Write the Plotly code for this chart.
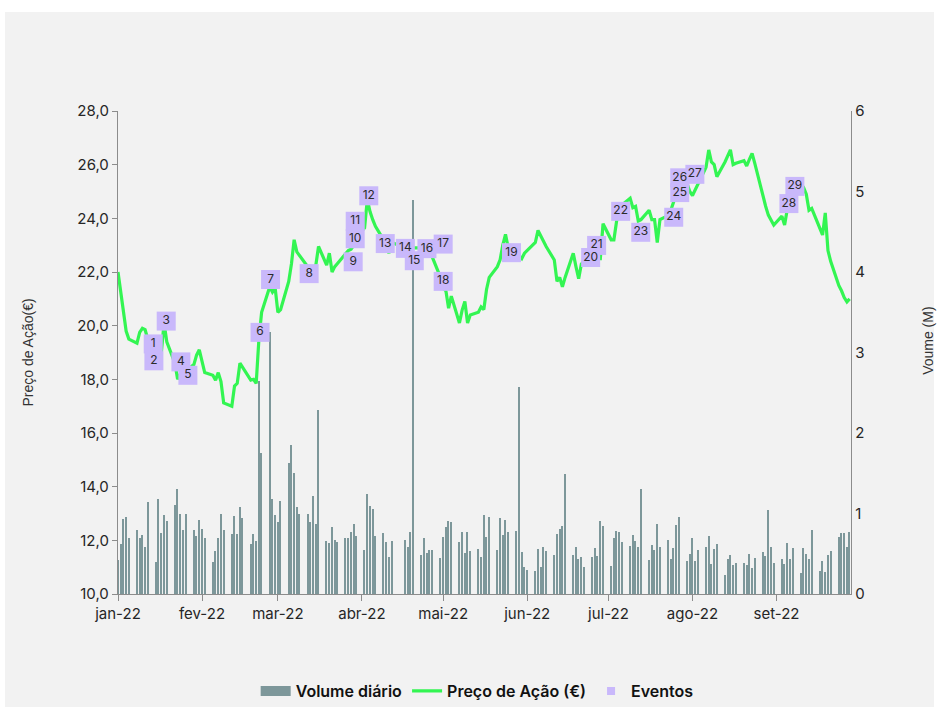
import pandas as pd
import plotly.graph_objects as go

# Trading calendar (Euronext Lisbon, 2022): weekdays minus Good Friday / Easter Monday
holidays = ["2022-04-15", "2022-04-18"]
days = [d for d in pd.bdate_range("2022-01-03", "2022-09-30") if d.strftime("%Y-%m-%d") not in holidays]

# Closing price (EUR), one value per trading day, week by week
price = [
    22.0, 21.3, 20.6, 19.8, 19.5,
    19.35, 19.75, 19.9, 19.85, 19.5,
    19.2, 19.0, 19.0, 20.1, 19.4,
    18.6, 18.0, 18.2, 18.3, 18.3,
    18.55, 18.9, 19.1, 18.65, 18.25,
    18.15, 17.97, 18.25, 17.92, 17.12,
    17.0, 17.75, 17.85, 18.6, 18.45,
    17.97, 18.0, 17.85, 19.5, 20.5,
    21.45, 21.25, 21.4, 20.5, 20.6,
    21.65, 22.3, 23.2, 22.75, 22.6,
    22.2, 22.1, 22.15, 22.25, 22.95,
    22.26, 22.7, 22.0, 22.2, 22.32,
    22.7, 22.8, 22.85, 23.0, 23.3,
    23.65, 24.7, 24.25, 23.95, 23.7,
    23.2, 23.0, 22.7, 23.1,
    22.9, 22.8, 22.7, 22.9,
    22.9, 22.85, 22.9, 22.8, 22.55,
    21.8, 21.4, 21.3, 20.65, 21.1,
    20.1, 20.58, 20.9, 20.1, 20.4,
    20.5, 20.7, 20.6, 21.35, 21.8,
    22.2, 22.45, 23.0, 23.4, 22.9,
    22.8, 22.6, 22.5, 22.7, 22.8,
    23.1, 23.55, 23.35, 23.15, 22.95,
    22.45, 21.65, 21.8, 21.45, 21.8,
    22.7, 22.2, 21.75, 22.3, 22.4,
    22.5, 22.6, 22.5, 22.5, 23.8,
    23.2, 23.2, 23.9, 24.2, 24.5,
    24.75, 24.4, 24.45, 23.9, 23.95,
    24.3, 23.95, 23.95, 23.1, 23.95,
    24.1, 24.3, 24.6, 24.9, 25.2,
    25.3, 25.0, 24.85, 25.06, 25.3,
    25.9, 26.55, 26.1, 26.0, 25.55,
    26.1, 26.3, 26.55, 26.0, 26.05,
    26.15, 25.95, 26.2, 26.42, 26.05,
    24.8, 24.45, 24.12, 23.9, 23.75,
    24.08, 23.75, 24.35, 24.7, 25.0,
    25.3, 25.15, 24.9, 24.3, 24.37,
    23.6, 23.38, 24.2, 22.8, 22.4,
    21.5, 21.3, 21.05, 20.89, 21.0,
]

# Daily traded volume (millions of shares)
volume = [
    0.42, 0.62, 0.93, 0.96, 0.69,
    0.80, 0.70, 0.73, 0.58, 1.14,
    0.40, 1.18, 0.76, 0.98, 0.91,
    1.11, 1.30, 0.99, 0.80, 0.99,
    0.79, 0.72, 0.92, 0.81, 0.70,
    0.40, 0.54, 0.70, 1.00, 0.80,
    0.75, 0.97, 0.75, 1.08, 0.95,
    0.62, 0.75, 0.66, 2.64, 1.75,
    3.26, 1.18, 0.98, 0.89, 1.15,
    1.63, 1.85, 1.50, 1.08, 0.99,
    1.00, 0.89, 1.22, 0.87, 2.28,
    0.66, 0.63, 0.83, 0.67, 0.65,
    0.69, 0.69, 0.77, 0.87, 0.72,
    0.55, 1.24, 1.09, 1.05, 0.72,
    0.76, 0.64, 0.46, 0.66,
    0.67, 0.59, 0.77, 4.89,
    0.48, 0.69, 0.51, 0.55, 0.55,
    0.45, 0.71, 0.83, 0.91, 0.89,
    0.64, 0.77, 0.51, 0.77, 0.53,
    0.56, 0.46, 0.98, 0.71, 0.96,
    0.55, 0.94, 0.73, 0.92, 0.77,
    0.78, 2.57, 0.52, 0.34, 0.30,
    0.29, 0.56, 0.33, 0.58, 0.54,
    0.49, 0.74, 0.81, 0.85, 1.49,
    0.48, 0.59, 0.43, 0.46, 0.34,
    0.46, 0.57, 0.47, 0.91, 0.85,
    0.35, 0.70, 0.78, 0.77, 0.64,
    0.60, 0.73, 0.66, 0.58, 1.31,
    0.42, 0.61, 0.55, 0.87, 0.58,
    0.67, 0.43, 0.57, 0.86, 0.96,
    0.41, 0.50, 0.70, 0.41, 0.55,
    0.59, 0.72, 0.37, 0.56, 0.62,
    0.24, 0.44, 0.48, 0.36, 0.39,
    0.38, 0.36, 0.50, 0.32, 0.45,
    0.52, 0.47, 1.04, 0.58, 0.38,
    0.43, 0.37, 0.63, 0.43, 0.57,
    0.26, 0.57, 0.50, 0.43, 0.80,
    0.28, 0.41, 0.27, 0.49, 0.53,
    0.71, 0.76, 0.76, 0.59, 0.77,
]

# Numbered corporate events
event_ids = [str(i) for i in range(1, 30)]
event_dates = [
    "2022-01-16 00:00", "2022-01-16 06:00", "2022-01-20 19:00", "2022-01-26 05:00",
    "2022-01-28 19:00", "2022-02-24 10:00", "2022-02-28 07:00", "2022-03-14 13:00",
    "2022-03-30 19:00", "2022-03-31 13:00", "2022-03-31 13:00", "2022-04-05 13:00",
    "2022-04-11 15:00", "2022-04-19 01:00", "2022-04-22 08:00", "2022-04-27 00:00",
    "2022-05-03 00:00", "2022-05-03 00:00", "2022-05-28 05:00", "2022-06-26 10:00",
    "2022-06-28 15:00", "2022-07-07 12:00", "2022-07-14 22:00", "2022-07-27 02:00",
    "2022-07-29 07:00", "2022-07-29 07:00", "2022-08-03 21:00", "2022-09-07 14:00",
    "2022-09-09 19:00",
]
event_levels = [
    19.32, 18.69, 20.17, 18.65, 18.15, 19.75, 21.72, 21.94, 22.38, 23.24,
    23.89, 24.84, 23.06, 22.88, 22.42, 22.87, 23.04, 21.65, 22.72, 22.54,
    22.99, 24.26, 23.48, 24.04, 24.96, 25.51, 25.64, 24.55, 25.19,
]

month_ticks = ["2022-01-03", "2022-02-03", "2022-03-03", "2022-04-03", "2022-05-03",
               "2022-06-03", "2022-07-03", "2022-08-03", "2022-09-03"]
month_labels = ["jan-22", "fev-22", "mar-22", "abr-22", "mai-22",
                "jun-22", "jul-22", "ago-22", "set-22"]

BAR = "#7d979a"
GREEN = "#33f552"
LAVENDER = "#c9b8fb"
AXIS = "#8c8c8c"
TICK_FONT = dict(family="Inter, Lato, sans-serif", size=15, color="#262626")

fig = go.Figure()

fig.add_trace(go.Bar(
    x=days, y=volume, yaxis="y", marker=dict(color=BAR, line=dict(width=0)),
    width=0.5 * 86400000, showlegend=False, name="Volume diário",
))
fig.add_trace(go.Scatter(
    x=days, y=price, yaxis="y2", mode="lines",
    line=dict(color=GREEN, width=3.2), showlegend=False, name="Preço de Ação (€)",
))
fig.add_trace(go.Scatter(
    x=event_dates, y=event_levels, yaxis="y2", mode="markers+text",
    text=event_ids, textposition="middle center",
    textfont=dict(family="Inter, Lato, sans-serif", size=12, color="#2b2b2b"),
    marker=dict(symbol="square", size=19, color=LAVENDER, line=dict(width=0)),
    showlegend=False, name="Eventos", cliponaxis=False,
))

# Legend entries
fig.add_trace(go.Scatter(x=[None], y=[None], yaxis="y2", mode="lines", name="Volume diário",
                         line=dict(color=BAR, width=10)))
fig.add_trace(go.Scatter(x=[None], y=[None], yaxis="y2", mode="lines", name="Preço de Ação (€)",
                         line=dict(color=GREEN, width=3.2)))
fig.add_trace(go.Scatter(x=[None], y=[None], yaxis="y2", mode="markers", name="Eventos",
                         marker=dict(symbol="square", size=8, color=LAVENDER)))

fig.update_layout(
    width=939, height=712,
    margin=dict(l=118, r=88, t=111, b=118, autoexpand=False),
    paper_bgcolor="white", plot_bgcolor="#f2f2f2",
    separators=",.",
    bargap=0,
    xaxis=dict(
        type="date", range=["2022-01-03", "2022-09-30 12:00"],
        tickvals=month_ticks, ticktext=month_labels, tickfont=TICK_FONT,
        showline=True, linecolor=AXIS, linewidth=1.3,
        ticks="outside", ticklen=6, tickcolor=AXIS, showgrid=False, zeroline=False,
    ),
    yaxis=dict(
        side="right", range=[0, 6], dtick=1, tickfont=TICK_FONT,
        showline=True, linecolor=AXIS, linewidth=1.3, ticks="",
        showgrid=False, zeroline=False,
    ),
    yaxis2=dict(
        overlaying="y", side="left", anchor="x", range=[10, 28], dtick=2,
        tickformat=".1f", tickfont=TICK_FONT,
        showline=True, linecolor=AXIS, linewidth=1.3,
        ticks="outside", ticklen=5, tickcolor=AXIS, showgrid=False, zeroline=False,
    ),
    legend=dict(
        orientation="h", x=0.49, xanchor="center",
        yref="container", y=1 - 691 / 712, yanchor="middle",
        font=dict(family="Inter, Lato, sans-serif", size=16, color="#111111", weight=600),
        bgcolor="rgba(0,0,0,0)", itemwidth=30,
    ),
    shapes=[dict(
        type="rect", xref="paper", yref="paper",
        x0=-0.1542, x1=1.1132, y0=-0.234, y1=1.205,
        fillcolor="#f2f2f2", line=dict(width=0), layer="below",
    )],
    annotations=[
        dict(text="Preço de Ação(€)", xref="paper", yref="paper", x=-0.1241, y=0.5,
             textangle=-90, showarrow=False, xanchor="center", yanchor="middle",
             font=dict(family="Liberation Sans, Arial, sans-serif", size=14, color="#333333")),
        dict(text="Voume (M)", xref="paper", yref="paper", x=1.105, y=0.524,
             textangle=-90, showarrow=False, xanchor="center", yanchor="middle",
             font=dict(family="Liberation Sans, Arial, sans-serif", size=14, color="#333333")),
    ],
)

fig.write_html("out.html")
